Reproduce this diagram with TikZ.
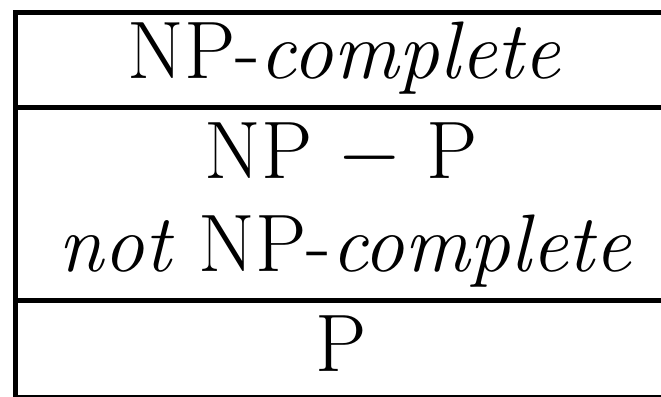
\documentclass[tikz,border=0pt]{standalone}
\usepackage{tikz}
\usetikzlibrary{positioning}

\begin{document}
\begin{tikzpicture}[x=0.25pt, y=-0.25pt,
    rowtext/.style={anchor=base, inner sep=0pt, font=\fontsize{20.4}{24}\selectfont},
    rule/.style={line width=1.25pt}
  ]
  \useasboundingbox (0,0) rectangle (661,396);
  % frame corners
  \coordinate (tl) at (15,12);
  \coordinate (tr) at (667,12);
  \coordinate (bl) at (15,397);
  \coordinate (br) at (667,397);
  \coordinate (s1l) at (15,107);
  \coordinate (s1r) at (667,107);
  \coordinate (s2l) at (15,300);
  \coordinate (s2r) at (667,300);
  \draw[rule] (tl) rectangle (br);
  \draw[rule] (s1l) -- (s1r);
  \draw[rule] (s2l) -- (s2r);
  % rows
  \node[rowtext] (npc) at (344,78)  {NP-\emph{complete}};
  \node[rowtext] (npp) at (341,178) {NP $-$ P};
  \node[rowtext] (nnpc) at (345,271) {\emph{not} NP-\emph{complete}};
  \node[rowtext] (p) at (341,371) {P};
\end{tikzpicture}
\end{document}
